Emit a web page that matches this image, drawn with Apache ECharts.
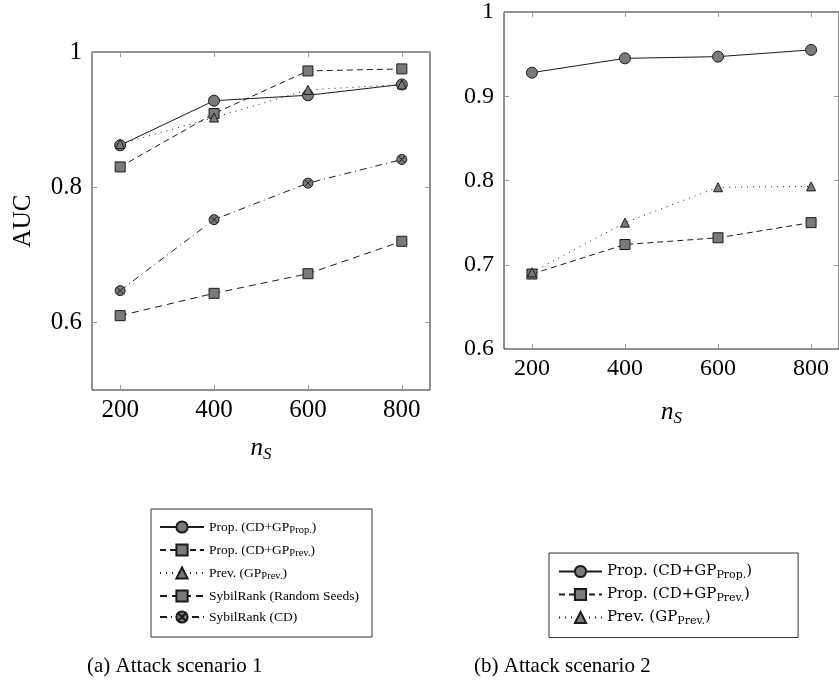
<!DOCTYPE html>
<html>
<head>
<meta charset="utf-8">
<script src="https://cdn.jsdelivr.net/npm/echarts@6/dist/echarts.min.js"></script>
<style>
html, body { margin: 0; padding: 0; background: #fff; }
#chart { width: 839px; height: 694px; }
</style>
</head>
<body>
<div id="chart"></div>
<script>
// Number of seeds n_S on the x axis
const nS = [200, 400, 600, 800];

// Attack scenario 1 (AUC)
const s1PropProp   = [0.862, 0.928, 0.936, 0.952];
const s1PropPrev   = [0.830, 0.909, 0.972, 0.975];
const s1Prev       = [0.864, 0.903, 0.944, 0.952];
const s1SybilRand  = [0.610, 0.643, 0.672, 0.720];
const s1SybilCD    = [0.647, 0.752, 0.806, 0.841];

// Attack scenario 2 (AUC)
const s2PropProp   = [0.928, 0.945, 0.947, 0.955];
const s2PropPrev   = [0.689, 0.724, 0.732, 0.750];
const s2Prev       = [0.691, 0.750, 0.792, 0.793];

// Tick labels
const xTicks  = [200, 400, 600, 800];
const yTicks1 = [0.6, 0.8, 1];
const yTicks2 = [0.6, 0.7, 0.8, 0.9, 1];

const captions = ['(a) Attack scenario 1', '(b) Attack scenario 2'];

const NAME_PP = 'Prop. (CD+GP_Prop.)';
const NAME_PV = 'Prop. (CD+GP_Prev.)';
const NAME_PR = 'Prev. (GP_Prev.)';
const NAME_SR = 'SybilRank (Random Seeds)';
const NAME_SC = 'SybilRank (CD)';

// rich-text versions with subscripts
const legendRich = {};
legendRich[NAME_PP] = 'Prop. (CD+GP{s|Prop.})';
legendRich[NAME_PV] = 'Prop. (CD+GP{s|Prev.})';
legendRich[NAME_PR] = 'Prev. (GP{s|Prev.})';
legendRich[NAME_SR] = 'SybilRank (Random Seeds)';
legendRich[NAME_SC] = 'SybilRank (CD)';

const SERIF = 'Liberation Serif';
const SERIF2 = 'DejaVu Serif';
const LINE = '#1a1a1a';
const FILL = '#7a7a7a';

const circleCross = 'path://M0,10A10,10,0,1,1,20,10A10,10,0,1,1,0,10ZM2.93,2.93L17.07,17.07M17.07,2.93L2.93,17.07';

function pts(vals) { return nS.map((x, i) => [x, vals[i]]); }

function lineSeries(name, vals, g, symbol, size, dash) {
  return {
    type: 'line', name: name, data: pts(vals),
    xAxisIndex: g, yAxisIndex: g,
    symbol: symbol, symbolSize: size,
    lineStyle: { color: LINE, width: 1, type: dash },
    itemStyle: { color: FILL, borderColor: LINE, borderWidth: 1 },
    emphasis: { disabled: true },
    animation: false
  };
}

function bottomAxis(g, fs, nameGap, fam) {
  return {
    type: 'value', gridIndex: g, min: 140, max: 860, position: 'bottom',
    axisLine: { show: false }, splitLine: { show: false },
    axisTick: { show: true, inside: true, length: 5, customValues: xTicks, lineStyle: { color: '#9a9a9a' } },
    axisLabel: { customValues: xTicks, margin: 8, fontFamily: fam, fontSize: fs, color: '#000' },
    name: '{i|n}{s|S}', nameLocation: 'middle', nameGap: nameGap,
    nameTextStyle: {
      rich: {
        i: { fontFamily: SERIF, fontStyle: 'italic', fontSize: 25, color: '#000' },
        s: { fontFamily: SERIF, fontStyle: 'italic', fontSize: 17, color: '#000', verticalAlign: 'bottom', padding: [12, 0, 0, 0] }
      }
    }
  };
}
function topAxis(g) {
  return {
    type: 'value', gridIndex: g, min: 140, max: 860, position: 'top',
    axisLine: { show: false }, splitLine: { show: false },
    axisTick: { show: true, inside: true, length: 5, customValues: xTicks, lineStyle: { color: '#9a9a9a' } },
    axisLabel: { show: false }
  };
}
function leftAxis(g, min, ticks, fs, fam) {
  return {
    type: 'value', gridIndex: g, min: min, max: 1, position: 'left',
    axisLine: { show: false }, splitLine: { show: false },
    axisTick: { show: true, inside: true, length: 5, customValues: ticks, lineStyle: { color: '#9a9a9a' } },
    axisLabel: { customValues: ticks, margin: 10, fontFamily: fam, fontSize: fs, color: '#000',
      formatter: v => (Math.abs(v - 1) < 1e-9 ? '1' : v.toFixed(1)) }
  };
}
function rightAxis(g, min, ticks) {
  return {
    type: 'value', gridIndex: g, min: min, max: 1, position: 'right',
    axisLine: { show: false }, splitLine: { show: false },
    axisTick: { show: true, inside: true, length: 5, customValues: ticks, lineStyle: { color: '#9a9a9a' } },
    axisLabel: { show: false }
  };
}

const yLeft0 = leftAxis(0, 0.5, yTicks1, 25, SERIF);
yLeft0.name = 'AUC';
yLeft0.nameLocation = 'middle';
yLeft0.nameGap = 56;
yLeft0.nameTextStyle = { fontFamily: SERIF, fontSize: 25, color: '#000' };

const chart = echarts.init(document.getElementById('chart'), null, { renderer: 'canvas' });

chart.setOption({
  backgroundColor: '#fff',
  animation: false,
  grid: [
    { left: 92, top: 52, width: 338, height: 338, show: true, borderColor: '#222', borderWidth: 1, backgroundColor: 'transparent' },
    { left: 504, top: 11, width: 339, height: 338, show: true, borderColor: '#222', borderWidth: 1, backgroundColor: 'transparent' }
  ],
  xAxis: [bottomAxis(0, 25, 44, SERIF), bottomAxis(1, 24, 49, SERIF), topAxis(0), topAxis(1)],
  yAxis: [yLeft0, leftAxis(1, 0.6, yTicks2, 24, SERIF), rightAxis(0, 0.5, yTicks1), rightAxis(1, 0.6, yTicks2)],
  legend: [
    {
      orient: 'vertical', left: 151, top: 509,
      data: [NAME_PP, NAME_PV, NAME_PR, NAME_SR, NAME_SC],
      itemWidth: 44, itemHeight: 14, itemGap: 7,
      padding: [11, 13, 13, 8],
      borderColor: '#333', borderWidth: 1, borderRadius: 0,
      selectedMode: false,
      formatter: n => legendRich[n],
      textStyle: {
        fontFamily: SERIF, fontSize: 13.5, color: '#000',
        rich: { s: { fontFamily: SERIF, fontSize: 10.5, color: '#000', verticalAlign: 'bottom', padding: [7, 0, 0, 0] } }
      }
    },
    {
      orient: 'vertical', left: 549, top: 553,
      data: [NAME_PP, NAME_PV, NAME_PR],
      itemWidth: 43, itemHeight: 14, itemGap: 6.5,
      padding: [11, 46, 11, 9],
      borderColor: '#333', borderWidth: 1, borderRadius: 0,
      selectedMode: false,
      formatter: n => legendRich[n],
      textStyle: {
        fontFamily: SERIF2, fontSize: 15, color: '#000',
        rich: { s: { fontFamily: SERIF2, fontSize: 11, color: '#000', verticalAlign: 'bottom', padding: [7, 0, 0, 0] } }
      }
    }
  ],
  series: [
    lineSeries(NAME_PP, s1PropProp, 0, 'circle', 11, 'solid'),
    lineSeries(NAME_PV, s1PropPrev, 0, 'rect', 10, [6, 4]),
    lineSeries(NAME_PR, s1Prev, 0, 'triangle', 9, [1, 5]),
    lineSeries(NAME_SR, s1SybilRand, 0, 'rect', 10, [7, 5]),
    lineSeries(NAME_SC, s1SybilCD, 0, circleCross, 10, [7, 4, 1, 4]),
    lineSeries(NAME_PP, s2PropProp, 1, 'circle', 11, 'solid'),
    lineSeries(NAME_PV, s2PropPrev, 1, 'rect', 10, [6, 4]),
    lineSeries(NAME_PR, s2Prev, 1, 'triangle', 9, [1, 5])
  ],
  graphic: [
    { type: 'text', left: 87, top: 656, style: { text: captions[0], fontFamily: SERIF, fontSize: 21, fill: '#000' } },
    { type: 'text', left: 474, top: 656, style: { text: captions[1], fontFamily: SERIF, fontSize: 21, fill: '#000' } }
  ]
});
</script>
</body>
</html>
